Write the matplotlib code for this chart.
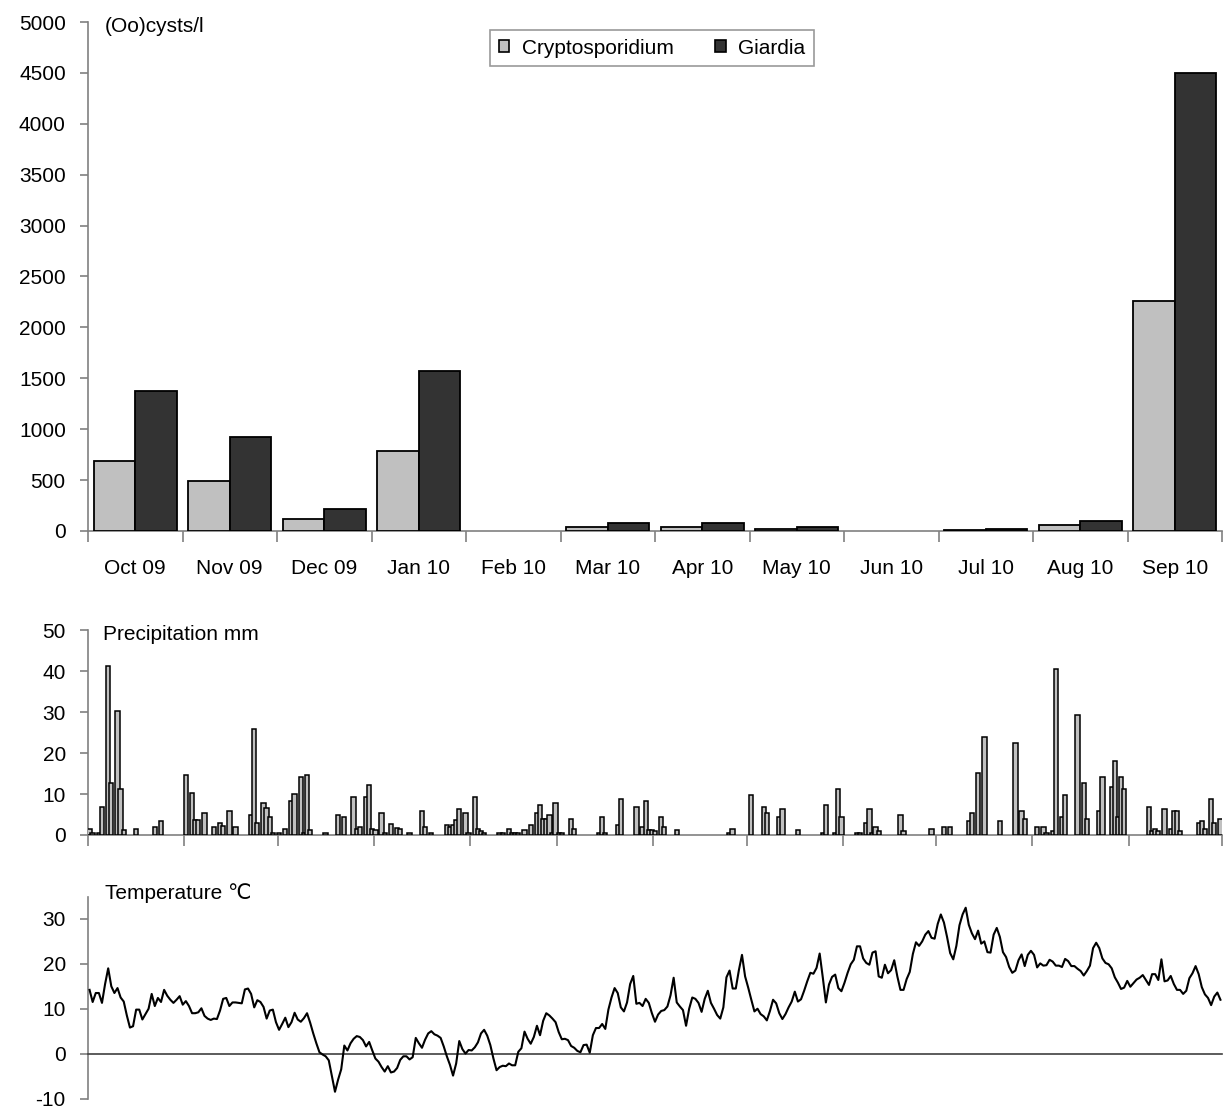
import numpy as np
import matplotlib
matplotlib.use("Agg")
import matplotlib.pyplot as plt
from matplotlib.patches import Patch

plt.rcParams['font.family'] = ['Liberation Sans', 'DejaVu Sans']
plt.rcParams['font.size'] = 15
plt.rcParams['axes.unicode_minus'] = False

# Monthly (oo)cyst concentrations
months = ["Oct 09", "Nov 09", "Dec 09", "Jan 10", "Feb 10", "Mar 10",
          "Apr 10", "May 10", "Jun 10", "Jul 10", "Aug 10", "Sep 10"]
cryptosporidium = [690, 490, 115, 785, 0, 35, 40, 20, 0, 10, 55, 2260]
giardia = [1380, 920, 215, 1575, 0, 75, 75, 35, 0, 15, 95, 4500]

# Days per month (Oct 2009 - Sep 2010) for the daily panels
month_days = [31, 30, 31, 31, 28, 31, 30, 31, 30, 31, 31, 30]

# Daily precipitation (day index from 1 Oct 2009, mm); other days are dry
rain_day = [0, 1, 3, 4, 6, 7, 9, 10, 11, 15, 21, 23, 31, 33, 34, 35, 37, 40, 42, 43,
            45, 47, 52, 53, 54, 56, 57, 58, 59, 61, 63, 65, 66, 68, 69, 70, 71, 76, 80, 82,
            85, 86, 87, 89, 90, 91, 92, 94, 95, 97, 99, 100, 103, 107, 108, 110, 115, 116, 117, 118,
            119, 121, 122, 124, 125, 126, 127, 132, 133, 135, 136, 137, 138, 140, 142, 144, 145, 146, 147, 148,
            149, 150, 151, 152, 155, 156, 164, 165, 166, 170, 171, 176, 178, 179, 180, 181, 182, 184, 185, 189,
            206, 207, 213, 217, 218, 222, 223, 228, 236, 237, 240, 241, 242, 247, 248, 250, 251, 252, 253, 254,
            261, 262, 271, 275, 277, 283, 284, 286, 288, 293, 298, 300, 301, 305, 307, 308, 310, 311, 313, 314,
            318, 320, 321, 325, 326, 329, 330, 331, 332, 333, 341, 342, 343, 344, 346, 348, 349, 350, 351, 357,
            358, 359, 361, 362, 364]
rain_mm = [1.5, 0.6, 0.5, 6.9, 41.1, 12.8, 30.3, 11.3, 1.1, 1.5, 2.0, 3.5, 14.7, 10.3, 3.6, 3.6, 5.4, 2.0, 3.0, 2.3,
           5.9, 2.0, 5.0, 25.9, 3.0, 7.9, 6.5, 4.5, 0.5, 0.5, 1.5, 8.4, 9.9, 14.2, 0.5, 14.7, 1.1, 0.5, 5.0, 4.5,
           9.3, 1.5, 2.0, 9.3, 12.3, 1.5, 1.1, 5.4, 0.5, 2.6, 1.6, 1.5, 0.5, 5.9, 2.0, 0.5, 2.5, 2.0, 2.5, 3.6,
           6.4, 5.4, 0.5, 9.3, 1.5, 1.0, 0.5, 0.5, 0.5, 1.5, 0.5, 0.5, 0.5, 1.1, 2.5, 5.4, 7.4, 4.0, 4.0, 5.0,
           0.5, 7.9, 0.5, 0.5, 4.0, 1.5, 0.5, 4.5, 0.5, 2.5, 8.9, 6.9, 2.0, 8.4, 1.1, 1.1, 1.0, 4.5, 2.0, 1.1,
           0.5, 1.5, 9.8, 6.9, 5.4, 4.5, 6.4, 1.1, 0.5, 7.4, 0.5, 11.3, 4.5, 0.5, 0.5, 3.0, 6.4, 0.5, 2.0, 1.0,
           5.0, 1.0, 1.5, 2.0, 2.0, 3.5, 5.4, 15.2, 24.0, 3.5, 22.5, 5.9, 4.0, 2.0, 2.0, 0.5, 1.0, 40.6, 4.5, 9.8,
           29.3, 12.8, 4.0, 5.9, 14.2, 11.8, 18.1, 4.5, 14.2, 11.3, 6.9, 1.0, 1.5, 1.0, 6.4, 1.5, 5.9, 5.9, 1.0, 3.0,
           3.5, 1.5, 8.9, 3.0, 4.0]

# Daily mean air temperature (deg C), 1 Oct 2009 - 30 Sep 2010
temperature = [
    14.2, 11.5, 13.5, 13.5, 11.3, 15.5, 19.0, 15.0, 13.5, 14.6,
    12.5, 11.6, 8.5, 5.8, 6.1, 9.8, 9.8, 7.6, 8.8, 10.0,
    13.3, 10.6, 12.4, 11.5, 14.2, 12.9, 12.0, 11.3, 12.0, 12.8,
    10.9, 11.7, 10.6, 9.0, 9.0, 9.2, 10.1, 8.4, 7.8, 7.5,
    7.8, 7.7, 9.6, 12.2, 12.4, 10.6, 11.4, 11.4, 11.3, 11.2,
    14.3, 14.5, 13.3, 10.3, 11.9, 11.5, 10.4, 7.8, 9.6, 9.8,
    7.0, 5.3, 6.6, 8.0, 5.9, 7.0, 9.1, 7.6, 7.1, 7.9,
    9.0, 6.9, 4.5, 2.3, 0.3, -0.2, -0.6, -1.5, -5.0, -8.5,
    -5.8, -3.5, 1.8, 0.7, 2.3, 3.3, 3.9, 3.7, 3.0, 1.6,
    2.6, 0.7, -1.1, -1.8, -3.0, -4.0, -2.8, -4.2, -4.0, -3.2,
    -1.4, -0.6, -0.6, -1.3, -0.8, 3.5, 2.3, 1.3, 3.1, 4.5,
    5.0, 4.3, 4.0, 3.5, 1.6, -0.6, -2.5, -4.9, -2.2, 2.8,
    1.0, 0.0, 0.8, 0.7, 1.4, 2.5, 4.5, 5.3, 4.0, 1.9,
    -1.1, -3.7, -3.0, -2.7, -2.8, -2.2, -2.6, -2.6, 0.4, 1.2,
    4.9, 3.3, 2.2, 3.7, 6.2, 4.1, 7.3, 9.0, 8.5, 7.8,
    7.0, 4.8, 3.2, 3.3, 3.0, 1.7, 1.3, 0.6, 0.3, 1.9,
    2.0, 0.2, 4.1, 5.7, 5.7, 6.6, 5.5, 9.8, 12.5, 14.6,
    13.5, 10.3, 9.4, 11.4, 15.5, 17.3, 11.1, 11.3, 10.6, 12.2,
    11.3, 9.0, 7.1, 8.7, 9.5, 9.7, 10.5, 13.0, 16.9, 11.4,
    10.5, 9.7, 6.2, 10.0, 12.5, 12.2, 11.3, 9.3, 12.2, 14.0,
    11.3, 10.0, 8.6, 7.8, 10.3, 17.0, 18.5, 14.5, 14.5, 18.6,
    22.0, 17.2, 14.7, 12.0, 9.4, 10.0, 8.8, 8.3, 7.4, 9.5,
    12.0, 11.2, 9.0, 7.7, 8.8, 10.3, 11.6, 13.8, 11.6, 12.1,
    14.0, 16.1, 18.0, 17.8, 19.1, 22.3, 17.0, 11.4, 15.4, 17.1,
    17.6, 14.6, 13.9, 15.8, 18.0, 19.9, 20.9, 23.9, 23.9, 21.2,
    20.2, 19.8, 22.5, 22.8, 17.2, 16.9, 19.8, 17.9, 18.6, 20.8,
    17.2, 14.2, 14.2, 16.6, 18.2, 22.2, 24.8, 24.0, 25.0, 26.5,
    27.3, 25.8, 25.6, 28.9, 31.0, 29.2, 26.0, 22.4, 21.0, 24.0,
    28.6, 31.0, 32.5, 28.7, 26.8, 25.5, 27.4, 24.5, 25.0, 22.6,
    22.5, 26.5, 28.0, 26.0, 22.6, 21.5, 19.3, 18.0, 18.5, 20.8,
    22.1, 19.5, 22.0, 22.9, 22.0, 19.2, 20.1, 19.6, 19.7, 20.9,
    20.5, 19.6, 19.6, 19.3, 21.1, 20.6, 19.5, 19.5, 18.9, 18.4,
    17.4, 18.4, 19.6, 23.5, 24.7, 23.5, 21.2, 20.2, 19.9, 19.0,
    17.0, 15.8, 14.4, 14.7, 16.2, 14.9, 15.7, 16.5, 16.9, 17.5,
    16.4, 15.3, 17.7, 17.7, 16.4, 21.0, 16.1, 16.3, 17.3, 15.5,
    14.2, 14.2, 13.3, 14.0, 16.8, 17.9, 19.5, 17.7, 14.8, 13.2,
    12.4, 10.8, 12.7, 13.6, 12.0,
]

W, H = 1224, 1108
AXIS_GREY = "#808080"
LIGHT = "#c0c0c0"
DARK = "#333333"

fig = plt.figure(figsize=(W / 100, H / 100), dpi=100)


def style_axes(ax):
    for s in ("top", "right"):
        ax.spines[s].set_visible(False)
    for s in ("left", "bottom"):
        ax.spines[s].set_color(AXIS_GREY)
        ax.spines[s].set_linewidth(1.2)
    ax.tick_params(axis="y", direction="out", length=6, width=1.2,
                   color=AXIS_GREY, pad=10, labelsize=15)


# ---- Panel 1: monthly (oo)cysts ----
ax1 = fig.add_axes([88 / W, 1 - 531 / H, 1134 / W, 509 / H])
style_axes(ax1)
x = np.arange(len(months))
bw = 0.44
ax1.bar(x - bw / 2, cryptosporidium, width=bw, color=LIGHT, edgecolor="black",
        linewidth=[1.3 if v > 0 else 0 for v in cryptosporidium],
        label="Cryptosporidium", zorder=3)
ax1.bar(x + bw / 2, giardia, width=bw, color=DARK, edgecolor="black",
        linewidth=[1.3 if v > 0 else 0 for v in giardia],
        label="Giardia", zorder=3)
ax1.set_xlim(-0.5, len(months) - 0.5)
ax1.set_ylim(0, 5000)
ax1.set_yticks(np.arange(0, 5001, 500))
ax1.set_xticks(np.arange(-0.5, len(months), 1.0))
ax1.set_xticklabels([])
ax1.set_xticks(x, minor=True)
ax1.set_xticklabels(months, minor=True)
ax1.tick_params(axis="x", which="major", direction="out", length=8, width=1.2,
                color=AXIS_GREY)
ax1.tick_params(axis="x", which="minor", length=0, pad=20, labelsize=15)
ax1.text(105 / W, 1 - 27 / H, "(Oo)cysts/l", transform=fig.transFigure,
         ha="left", va="center", fontsize=15)

handles = [Patch(facecolor=LIGHT, edgecolor="black", linewidth=1.2),
           Patch(facecolor=DARK, edgecolor="black", linewidth=1.2)]
leg = fig.legend(handles, ["Cryptosporidium", "Giardia"], loc="center",
                 bbox_to_anchor=(652 / W, 1 - 48 / H), ncol=2, frameon=True,
                 fancybox=False, handlelength=0.5, handleheight=0.5,
                 handletextpad=0.6, columnspacing=2.0, borderpad=0.4,
                 fontsize=15)
leg.get_frame().set_edgecolor(AXIS_GREY)
leg.get_frame().set_linewidth(1.2)

# Month boundaries for the daily panels
bounds = np.concatenate([[0], np.cumsum(month_days)])
ndays = bounds[-1]

# ---- Panel 2: daily precipitation ----
ax2 = fig.add_axes([88 / W, 1 - 835 / H, 1134 / W, 205 / H])
style_axes(ax2)
ax2.bar(np.array(rain_day) + 0.5, rain_mm, width=1.4, color=LIGHT,
        edgecolor="black", linewidth=1.1, zorder=3)
ax2.set_xlim(0, ndays)
ax2.set_ylim(0, 50)
ax2.set_yticks(np.arange(0, 51, 10))
ax2.set_xticks(bounds)
ax2.set_xticklabels([])
ax2.tick_params(axis="x", direction="out", length=8, width=1.2, color=AXIS_GREY)
ax2.text(103 / W, 1 - 634 / H, "Precipitation mm", transform=fig.transFigure,
         ha="left", va="center", fontsize=15)

# ---- Panel 3: daily temperature ----
ax3 = fig.add_axes([88 / W, 1 - 1098.5 / H, 1134 / W, 202 / H])
style_axes(ax3)
ax3.plot(np.arange(len(temperature)) + 0.5, temperature, color="black",
         linewidth=1.5, zorder=3)
ax3.set_xlim(0, ndays)
ax3.set_ylim(-10, 35)
ax3.set_yticks(np.arange(-10, 31, 10))
ax3.spines["bottom"].set_position(("data", 0))
ax3.spines["bottom"].set_color("#404040")
ax3.set_xticks([])
ax3.text(105 / W, 1 - 893 / H, "Temperature ℃", transform=fig.transFigure,
         ha="left", va="center", fontsize=15)

fig.savefig("out.png", dpi=100)
